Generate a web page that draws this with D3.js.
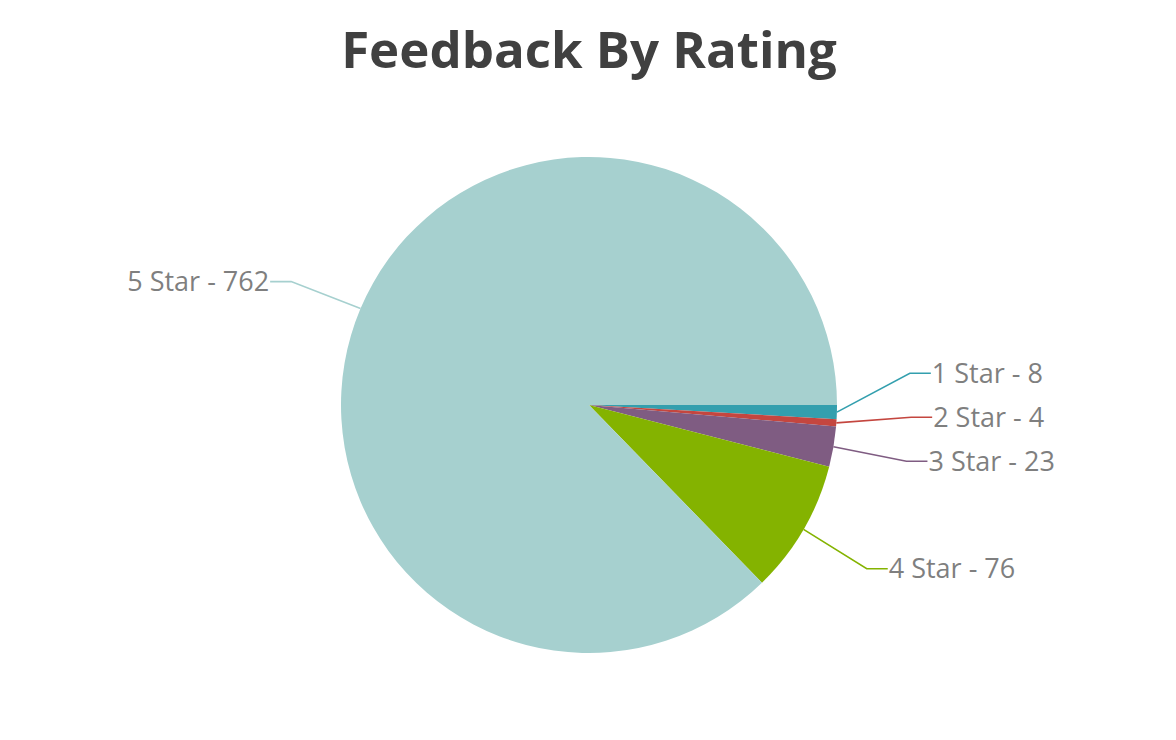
<meta charset="utf-8">
<html>
<head>
    <script src="https://d3js.org/d3.v7.min.js"></script>
    <style>
        body { margin: 0; background: #fff; }
    </style>
</head>
<body>
    <div id="chart"></div>
    <script>
        // data
        const ratings = ["1 Star", "2 Star", "3 Star", "4 Star", "5 Star"];
        const counts = [8, 4, 23, 76, 762];
        const sliceColors = ["#339FAE", "#C4463F", "#7F5C82", "#84B300", "#A6D0CF"];

        const width = 1176, height = 740;
        const cx = 589, cy = 405, radius = 248;

        const svg = d3.select("#chart").append("svg")
            .attr("width", width)
            .attr("height", height);

        // title
        svg.append("text")
            .attr("x", cx)
            .attr("y", 68)
            .attr("text-anchor", "middle")
            .style("font-family", "'Open Sans', sans-serif")
            .style("font-weight", "bold")
            .style("font-size", "51px")
            .style("fill", "#404040")
            .text("Feedback By Rating");

        const data = ratings.map((r, i) => ({ label: r, value: counts[i], color: sliceColors[i] }));

        // excel starts the first slice at 3 o'clock and goes clockwise
        const pie = d3.pie().sort(null).value(d => d.value)
            .startAngle(Math.PI / 2).endAngle(Math.PI / 2 + 2 * Math.PI);
        const arcs = pie(data);
        const arc = d3.arc().innerRadius(0).outerRadius(radius);

        const g = svg.append("g").attr("transform", `translate(${cx},${cy})`);

        g.selectAll("path").data(arcs).enter().append("path")
            .attr("d", arc)
            .attr("fill", d => d.data.color);

        // label layout: elbow on a ring outside the pie, small labels pushed apart
        const ring = radius * 1.3;
        const gap = 44;
        const labels = arcs.map(a => {
            const mid = (a.startAngle + a.endAngle) / 2;
            return {
                d: a,
                mid: mid,
                sx: radius * Math.sin(mid),
                sy: -radius * Math.cos(mid),
                y: -ring * Math.cos(mid) + 2,
                right: Math.sin(mid) >= 0
            };
        });
        // spread right side labels from the bottom upward
        const rightSide = labels.filter(l => l.right).sort((a, b) => b.y - a.y);
        for (let i = 1; i < rightSide.length; i++) {
            if (rightSide[i - 1].y - rightSide[i].y < gap) rightSide[i].y = rightSide[i - 1].y - gap;
        }
        labels.forEach(l => {
            const dx = Math.sqrt(Math.max(0, ring * ring - l.y * l.y));
            l.ex = l.right ? dx : -dx;
            l.tx = l.right ? l.ex + 21 : l.ex - 21;
        });

        g.selectAll("polyline").data(labels).enter().append("polyline")
            .attr("points", l => [[l.sx, l.sy], [l.ex, l.y], [l.tx, l.y]].map(p => p.join(",")).join(" "))
            .attr("fill", "none")
            .attr("stroke", l => l.d.data.color)
            .attr("stroke-width", 1.6);

        g.selectAll("text.lbl").data(labels).enter().append("text")
            .attr("class", "lbl")
            .attr("x", l => l.right ? l.tx + 1 : l.tx - 1)
            .attr("y", l => l.y)
            .attr("dy", "0.35em")
            .attr("text-anchor", l => l.right ? "start" : "end")
            .style("font-family", "'Open Sans', sans-serif")
            .style("font-size", "27px")
            .style("fill", "#7F7F7F")
            .text(l => l.d.data.label + " - " + l.d.data.value);
    </script>
</body>
</html>
